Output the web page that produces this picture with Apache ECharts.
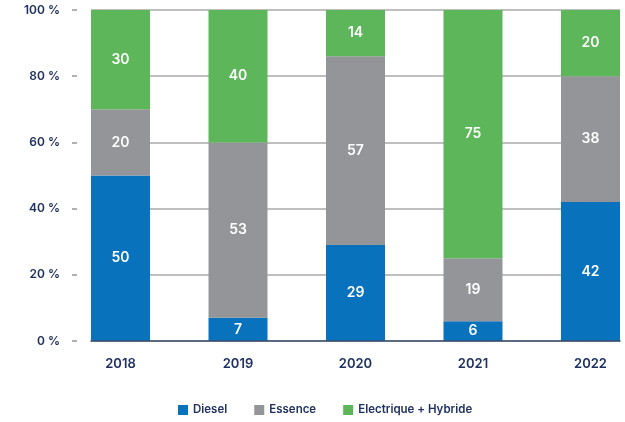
<!DOCTYPE html>
<html>
<head>
<meta charset="utf-8">
<script src="https://cdn.jsdelivr.net/npm/echarts@6/dist/echarts.min.js"></script>
<style>
html,body{margin:0;padding:0;background:#fff;}
#c{width:625px;height:422px;}
</style>
</head>
<body>
<div id="c"></div>
<script>
const years = ['2018', '2019', '2020', '2021', '2022'];
const diesel = [50, 7, 29, 6, 42];
const essence = [20, 53, 57, 19, 38];
const electrique = [30, 40, 14, 75, 20];
const seriesNames = ['Diesel', 'Essence', 'Electrique + Hybride'];
const yTicks = [0, 20, 40, 60, 80, 100];

const navy = '#1f3160';
const font = 'Inter';
const colors = ['#0872bd', '#939598', '#5db65a'];

const chart = echarts.init(document.getElementById('c'));
const labelCfg = {
  show: true, position: 'inside', color: '#fff',
  fontFamily: font, fontWeight: 600, fontSize: 14
};
const mk = (name, data, i) => ({
  name, type: 'bar', stack: 'tot', data, barWidth: 59, clip: false,
  xAxisIndex: 0, yAxisIndex: 0,
  itemStyle: { color: colors[i] }, label: labelCfg, z: 3
});
chart.setOption({
  animation: false,
  color: colors,
  grid: [
    { left: 120.5, right: 34.5, top: 10, bottom: 81 },
    { left: 91, right: 5, top: 10, bottom: 81 }
  ],
  legend: {
    left: 178, top: 404, padding: 0, itemWidth: 10, itemHeight: 10, itemGap: 27,
    icon: 'rect',
    textStyle: { color: navy, fontFamily: font, fontWeight: 600, fontSize: 11.5 },
    data: seriesNames
  },
  xAxis: [
    { type: 'category', gridIndex: 0, data: years, boundaryGap: false,
      axisLine: { show: false }, axisTick: { show: false },
      axisLabel: { color: navy, fontFamily: font, fontWeight: 600, fontSize: 13, margin: 17 } },
    { type: 'category', gridIndex: 1, data: [''], boundaryGap: false,
      axisLine: { show: true, lineStyle: { color: '#3b4d6e', width: 1.5 } },
      axisTick: { show: false }, axisLabel: { show: false }, z: 5 }
  ],
  yAxis: [
    { type: 'value', gridIndex: 0, min: yTicks[0], max: yTicks[yTicks.length - 1], interval: 20,
      show: false, splitLine: { show: false } },
    { type: 'value', gridIndex: 1, min: yTicks[0], max: yTicks[yTicks.length - 1], interval: 20,
      offset: 14,
      axisLine: { show: false },
      axisTick: { show: true, length: 5, lineStyle: { color: '#999', width: 1.5 } },
      axisLabel: { formatter: '{value} %', color: navy, fontFamily: font, fontWeight: 600, fontSize: 12, margin: 17 },
      splitLine: { show: true, lineStyle: { color: '#aaaaaa', width: 1.5 } } }
  ],
  series: [
    mk(seriesNames[0], diesel, 0),
    mk(seriesNames[1], essence, 1),
    mk(seriesNames[2], electrique, 2)
  ]
});
</script>
</body>
</html>
